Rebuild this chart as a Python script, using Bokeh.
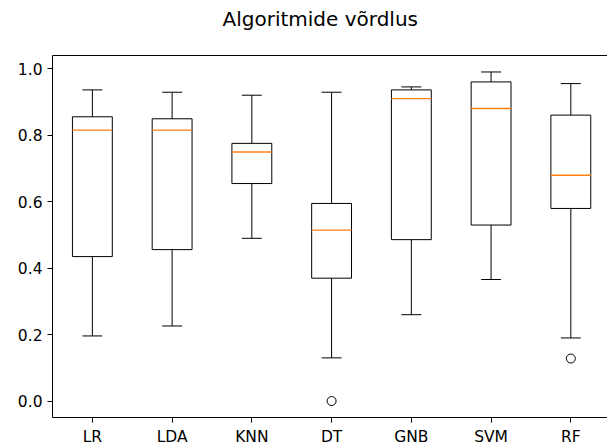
from bokeh.plotting import figure
from bokeh.models import Range1d, FixedTicker, LinearAxis, ColumnDataSource, Title
from bokeh.embed import file_html
from bokeh.resources import INLINE

# ---- data ----
title_text = "Algoritmide võrdlus"
categories = ["LR", "LDA", "KNN", "DT", "GNB", "SVM", "RF"]
whisker_low = [0.196, 0.226, 0.490, 0.130, 0.260, 0.366, 0.190]
q1 = [0.435, 0.456, 0.655, 0.370, 0.486, 0.530, 0.580]
median = [0.816, 0.816, 0.750, 0.515, 0.911, 0.881, 0.680]
q3 = [0.856, 0.850, 0.776, 0.595, 0.937, 0.961, 0.861]
whisker_high = [0.937, 0.930, 0.921, 0.930, 0.946, 0.991, 0.956]
outlier_cat = ["DT", "RF"]
outlier_val = [0.0, 0.128]
y_ticks = [0.0, 0.2, 0.4, 0.6, 0.8, 1.0]

pos = [i + 1 for i in range(len(categories))]
box_w = 0.5
cap_w = 0.25

src = ColumnDataSource(dict(
    x=pos,
    lo=whisker_low, q1=q1, med=median, q3=q3, hi=whisker_high,
    left=[p_ - box_w / 2 for p_ in pos], right=[p_ + box_w / 2 for p_ in pos],
    cl=[p_ - cap_w / 2 for p_ in pos], cr=[p_ + cap_w / 2 for p_ in pos],
))
out_src = ColumnDataSource(dict(
    x=[pos[categories.index(c)] for c in outlier_cat], y=outlier_val))

p = figure(width=607, height=448, output_backend="svg", toolbar_location=None,
           x_range=Range1d(0.5, 7.46), y_range=Range1d(-0.0496, 1.0406),
           min_border_left=52, min_border_right=0, min_border_top=55,
           min_border_bottom=29, x_axis_location=None, y_axis_location=None)
p.background_fill_color = "white"
p.border_fill_color = "white"
p.outline_line_color = None
p.grid.visible = False

FONT = "DejaVu Sans"

# axes
xax = LinearAxis(ticker=FixedTicker(ticks=pos),
                 major_label_overrides={p_: c for p_, c in zip(pos, categories)})
yax = LinearAxis(ticker=FixedTicker(ticks=y_ticks),
                 major_label_overrides={t: f"{t:.1f}" for t in y_ticks})
for ax in (xax, yax):
    ax.axis_line_color = "black"
    ax.axis_line_width = 1
    ax.major_tick_line_color = "black"
    ax.major_tick_out = 5
    ax.major_tick_in = 0
    ax.minor_tick_line_color = None
    ax.major_label_text_font = FONT
    ax.major_label_text_font_size = "15.5px"
    ax.major_label_text_color = "black"
    ax.major_label_standoff = 5
p.add_layout(xax, "below")
p.add_layout(yax, "left")
top = LinearAxis(ticker=FixedTicker(ticks=[]), axis_line_color="black",
                 major_tick_line_color=None, minor_tick_line_color=None,
                 major_label_text_font_size="0px")
p.add_layout(top, "above")
# blank spacer between the top spine and the title
p.add_layout(Title(text=" ", text_font_size="14px", standoff=0), "above")

# title
p.title.text = title_text
p.title.align = "left"
p.title.vertical_align = "top"
p.title.text_font = FONT
p.title.text_font_size = "20px"
p.title.text_font_style = "normal"
p.title.text_color = "black"
p.title.standoff = 10
p.title.offset = 170

# whiskers
p.segment(x0="x", y0="q3", x1="x", y1="hi", source=src, line_color="black", line_width=1)
p.segment(x0="x", y0="q1", x1="x", y1="lo", source=src, line_color="black", line_width=1)
p.segment(x0="cl", y0="hi", x1="cr", y1="hi", source=src, line_color="black", line_width=1)
p.segment(x0="cl", y0="lo", x1="cr", y1="lo", source=src, line_color="black", line_width=1)
# boxes
p.quad(left="left", right="right", bottom="q1", top="q3", source=src,
       fill_color=None, line_color="black", line_width=1)
# medians
p.segment(x0="left", y0="med", x1="right", y1="med", source=src,
          line_color="#ff7f0e", line_width=1.3)
# outliers
p.scatter(x="x", y="y", source=out_src, size=9, marker="circle",
          fill_color=None, line_color="black", line_width=1)

open("out.html", "w").write(file_html(p, INLINE))
